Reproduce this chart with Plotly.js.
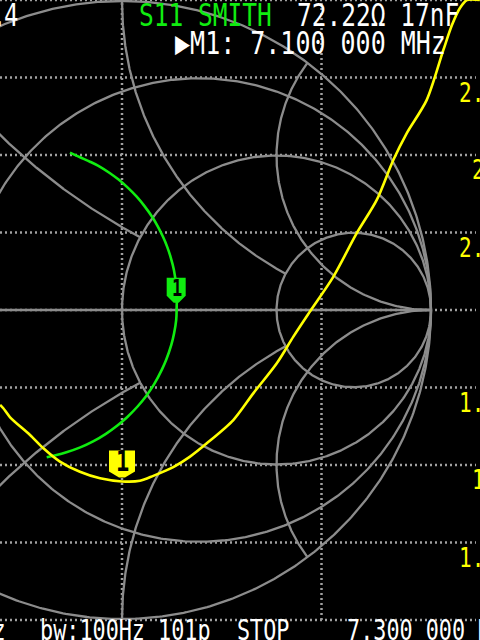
<!DOCTYPE html>
<html><head><meta charset="utf-8">
<script src="https://cdn.plot.ly/plotly-3.0.1.min.js"></script>
<style>html,body{margin:0;padding:0;background:#000;overflow:hidden}#chart{width:480px;height:640px}</style>
</head><body><div id="chart"></div>
<script>
const s11Re = [-0.1683,-0.1359,-0.1036,-0.0737,-0.0411,-0.0110,0.0178,0.0476,0.0722,0.0984,0.1165,0.1327,0.1466,0.1573,0.1680,0.1770,0.1770,0.1754,0.1686,0.1595,0.1430,0.1294,0.1036,0.0777,0.0489,0.0165,-0.0149,-0.0521,-0.0935,-0.1350,-0.1799,-0.2120,-0.2437];
const s11Im = [0.5091,0.4942,0.4799,0.4650,0.4443,0.4220,0.3968,0.3667,0.3369,0.3000,0.2693,0.2369,0.2036,0.1715,0.1298,0.0650,0.0107,-0.0320,-0.0751,-0.1129,-0.1612,-0.1922,-0.2408,-0.2790,-0.3139,-0.3469,-0.3738,-0.4006,-0.4252,-0.4447,-0.4605,-0.4696,-0.4767];
const smithMarkerIndex = 16;

// ---- SWR trace (frequency in MHz, SWR)
const swrFreq  = [7.0389,7.0405,7.0439,7.0539,7.0606,7.0689,7.0789,7.0890,7.1000,7.1090,7.1157,7.1257,7.1341,7.1425,7.1558,7.1658,7.1776,7.1859,7.1942,7.2059,7.2176,7.2277,7.2360,7.2427,7.2527,7.2611,7.2654,7.2694,7.2729,7.2794];
const swrValue = [1.694,1.683,1.654,1.597,1.554,1.511,1.478,1.457,1.447,1.449,1.465,1.493,1.527,1.570,1.645,1.731,1.828,1.914,1.995,2.107,2.247,2.355,2.484,2.570,2.677,2.839,2.919,2.974,3.000,3.000];
const swrGridValues = [1,1.25,1.5,1.75,2,2.25,2.5,2.75,3];
const swrLabelValues = [2.75,2.5,2.25,2,1.75,1.5,1.25];
const swrLabelTexts  = ['2.75','2.5','2.25','2','1.75','1.5','1.25'];
const freqGridLines = [7.1, 7.2];

// ---- marker / status texts
const markerFreqMHz = 7.1;
const markerText1 = '72.22\u03A9 17nF';
const markerText2 = '\u25B6M1: 7.100 000 MHz';
const startText = '6.900 000 MHz';
const stopText  = '7.300 000 MHz';
const bwText = 'bw:100Hz 101p';

// ---- colours
const GRID = '#8c8c8c', DOTS = '#a0a0a0', GREEN = '#10ec10', YELLOW = '#ffff00', WHITE = '#ffffff';

// ---- Smith chart grid (NanoVNA style)
function gamma(r, x){ const d=(r+1)*(r+1)+x*x; return [(r*r+x*x-1)/d, 2*x/d]; }
const gx=[], gy=[];
function addReactance(xr, rMax){
  for (const s of [1,-1]){
    const N=400;
    for (let i=0;i<=N;i++){
      const t=i/N;
      const r = (rMax===Infinity) ? Math.tan(t*Math.PI/2*0.9995) : rMax*t;
      const g=gamma(r, s*xr); gx.push(g[0]); gy.push(g[1]);
    }
    if (rMax===Infinity){ gx.push(1); gy.push(0); }
    gx.push(null); gy.push(null);
  }
}
function addResistance(r){
  const c=r/(r+1), rad=1/(r+1);
  for (let i=0;i<=720;i++){ const a=i/720*2*Math.PI; gx.push(c+rad*Math.cos(a)); gy.push(rad*Math.sin(a)); }
  gx.push(null); gy.push(null);
}
addResistance(0);
gx.push(-1,1,null); gy.push(0,0,null);
addReactance(2, Infinity);
addResistance(3);
addReactance(1, 3);
addResistance(1);
addReactance(0.5, 1);
addResistance(1/3);

// ---- axes scaling (Smith radius 309 px centred at 122,310 ; SWR 310 px per unit)
const W=480, H=640;
const smithX = [-122/309, 358/309], smithY = [-330/309, 310/309];
const freqRange = [7.1-122/1995, 7.1+358/1995], swrRange = [2-330/310, 3];

const traces = [
  {x:gx, y:gy, mode:'lines', line:{color:GRID, width:2.3}, hoverinfo:'skip', xaxis:'x', yaxis:'y'},
  {x:swrFreq, y:swrValue, mode:'lines', line:{color:YELLOW, width:2.6, shape:'spline', smoothing:0.8}, xaxis:'x2', yaxis:'y2'},
  {x:s11Re, y:s11Im, mode:'lines', line:{color:GREEN, width:2.6, shape:'spline', smoothing:1}, xaxis:'x', yaxis:'y'}
];

const shapes = [];
swrGridValues.forEach(v=>shapes.push({type:'line', xref:'paper', x0:0, x1:476/W, yref:'y2', y0:v, y1:v, line:{color:DOTS, width:2.5, dash:'2px,3px'}, layer:'below'}));
freqGridLines.forEach(f=>shapes.push({type:'line', xref:'x2', x0:f, x1:f, yref:'y2', y0:1, y1:3, line:{color:DOTS, width:2.5, dash:'2px,3px'}, layer:'below'}));

// markers
const mIdx = swrFreq.indexOf(markerFreqMHz);
shapes.push({type:'path', xref:'x', yref:'y', xsizemode:'pixel', ysizemode:'pixel',
  xanchor:s11Re[smithMarkerIndex], yanchor:s11Im[smithMarkerIndex],
  path:'M-10,29 L9,29 L9,11 L2,4 L-3,4 L-10,11 Z', fillcolor:GREEN, line:{width:0}, layer:'above'});
shapes.push({type:'path', xref:'x2', yref:'y2', xsizemode:'pixel', ysizemode:'pixel',
  xanchor:swrFreq[mIdx], yanchor:swrValue[mIdx],
  path:'M-13,31 L13,31 L13,10 L3,4 L-3,4 L-13,10 Z', fillcolor:YELLOW, line:{width:0}, layer:'above'});

const px = x=>x/W, py = y=>1-y/H;
const MONO = 'DejaVu Sans Mono';
function txt(text, x, y, color, size, anchor){
  return {text, xref:'paper', yref:'paper', x:px(x), y:py(y), xanchor:anchor||'left', yanchor:'middle',
    showarrow:false, font:{family:MONO, size, color}};
}
const annotations = [
  txt('.', 8, 16, WHITE, 24, 'right'),
  txt('4', 20, 16, WHITE, 24, 'right'),
  txt('S11 SMITH', 137, 15, GREEN, 24.5),
  txt(markerText1, 295, 15, WHITE, 24.5),
  txt(markerText2, 173, 43, WHITE, 25),
  txt(startText, 8, 630, WHITE, 21.8, 'right'),
  txt(bwText, 38, 630, WHITE, 21.8),
  txt('STOP', 235, 630, WHITE, 21.8),
  txt(stopText, 345, 630, WHITE, 21.8),
  {text:'1', xref:'x', yref:'y', x:s11Re[smithMarkerIndex], y:s11Im[smithMarkerIndex], yshift:19, showarrow:false,
   font:{family:MONO, size:17, color:'#000', weight:'bold'}},
  {text:'1', xref:'x2', yref:'y2', x:swrFreq[mIdx], y:swrValue[mIdx], yshift:20, showarrow:false,
   font:{family:MONO, size:22, color:'#000', weight:'bold'}}
];
swrLabelValues.forEach((v,i)=>annotations.push({text:swrLabelTexts[i], xref:'paper', yref:'y2', x:512/W, y:v, yshift:-15,
  xanchor:'right', yanchor:'middle', showarrow:false, font:{family:MONO, size:21, color:YELLOW}}));

const ax = r=>({range:r, visible:false, fixedrange:true});
const layout = {
  width:W, height:H, margin:{l:0,r:0,t:0,b:0}, paper_bgcolor:'#000', plot_bgcolor:'#000', showlegend:false,
  xaxis:ax(smithX), yaxis:ax(smithY),
  xaxis2:Object.assign(ax(freqRange), {overlaying:'x'}),
  yaxis2:Object.assign(ax(swrRange), {overlaying:'y'}),
  shapes, annotations
};
Plotly.newPlot('chart', traces, layout, {staticPlot:true, displayModeBar:false}).then(()=>{
  // the device font is taller and narrower than any installed monospace: stretch text vertically
  document.querySelectorAll('.annotation-text').forEach(t=>{
    t.style.transformBox='fill-box'; t.style.transformOrigin='50% 50%'; t.style.transform='scaleY(1.3)';
  });
});
</script></body></html>
